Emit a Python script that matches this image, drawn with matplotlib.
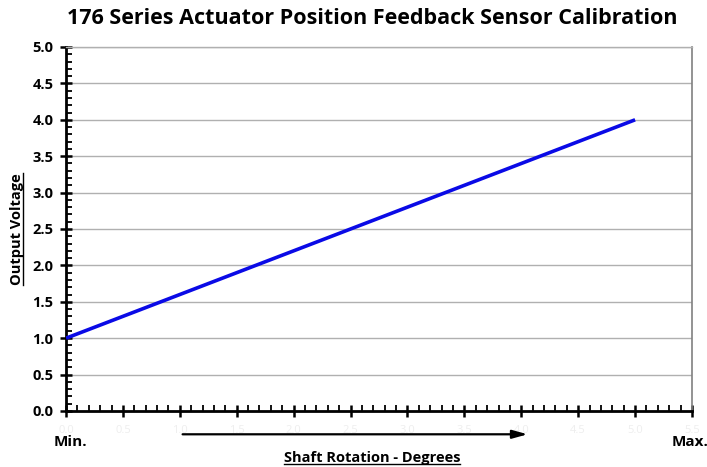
import matplotlib
matplotlib.use("Agg")
import matplotlib.pyplot as plt
from matplotlib.ticker import MultipleLocator
from matplotlib.lines import Line2D

# Data
rotation = [0.0, 5.0]
voltage = [1.0, 4.0]
x_ticks = [0.0, 0.5, 1.0, 1.5, 2.0, 2.5, 3.0, 3.5, 4.0, 4.5, 5.0, 5.5]
y_ticks = [0.0, 0.5, 1.0, 1.5, 2.0, 2.5, 3.0, 3.5, 4.0, 4.5, 5.0]
title = "176 Series Actuator Position Feedback Sensor Calibration"
xlabel = "Shaft Rotation - Degrees"
ylabel = "Output Voltage"

plt.rcParams['font.family'] = ['Open Sans', 'DejaVu Sans']

fig = plt.figure(figsize=(7.07, 4.67), dpi=100)
W, H = 707, 467
ax = fig.add_axes([66 / W, 1 - 411 / H, (692 - 66) / W, (411 - 47) / H])

ax.plot(rotation, voltage, color='#0a0ae6', lw=2.6, solid_capstyle='butt', zorder=3)

ax.set_xlim(0, 5.5)
ax.set_ylim(0, 5.0)
ax.set_yticks(y_ticks)
ax.set_yticklabels([f"{v:.1f}" for v in y_ticks], fontweight='bold', fontsize=10.5)
ax.set_xticks(x_ticks)
ax.set_xticklabels([f"{v:.1f}" for v in x_ticks], fontsize=8, color='#eeeeee')
ax.xaxis.set_minor_locator(MultipleLocator(0.1))
ax.yaxis.set_minor_locator(MultipleLocator(0.1))
ax.tick_params(which='major', direction='inout', length=8, width=1.8, color='black', pad=5)
ax.tick_params(which='minor', direction='in', length=4, width=1.3, color='black')
ax.tick_params(axis='x', which='major', pad=6)

ax.grid(axis='y', which='major', color='#b0b0b0', lw=1.0)
ax.set_axisbelow(True)
for s in ['left', 'bottom']:
    ax.spines[s].set_linewidth(2.0)
    ax.spines[s].set_color('black')
ax.spines['right'].set_color('#808080')
ax.spines['right'].set_linewidth(1.2)
ax.spines['top'].set_color('#b0b0b0')
ax.spines['top'].set_linewidth(1.0)

fig.text(372 / W, 1 - 18 / H, title, ha='center', va='center', fontsize=15.5, fontweight='bold')
fig.text(70 / W, 1 - 442 / H, "Min.", ha='center', va='center', fontsize=11, fontweight='bold')
fig.text(690 / W, 1 - 442 / H, "Max.", ha='center', va='center', fontsize=11, fontweight='bold')

xl = fig.text(372 / W, 1 - 458 / H, xlabel, ha='center', va='center', fontsize=10.5, fontweight='bold')
yl = fig.text(17 / W, 1 - 229 / H, ylabel, ha='center', va='center', fontsize=10.5, fontweight='bold', rotation=90)

# Arrow along rotation direction
ax.annotate("", xy=(4.08, -0.32), xytext=(1.0, -0.32), xycoords='data',
            arrowprops=dict(arrowstyle='-|>,head_length=0.9,head_width=0.25', color='black', lw=1.6),
            annotation_clip=False)

# Underlines
fig.canvas.draw()
r = fig.canvas.get_renderer()
bb = xl.get_window_extent(r)
fig.add_artist(Line2D([bb.x0 / W, bb.x1 / W], [(bb.y0 + 1) / H, (bb.y0 + 1) / H], color='black', lw=1.0))
bb = yl.get_window_extent(r)
fig.add_artist(Line2D([(bb.x1 - 1) / W, (bb.x1 - 1) / W], [bb.y0 / H, bb.y1 / H], color='black', lw=1.0))

fig.savefig("out.png", dpi=100)
